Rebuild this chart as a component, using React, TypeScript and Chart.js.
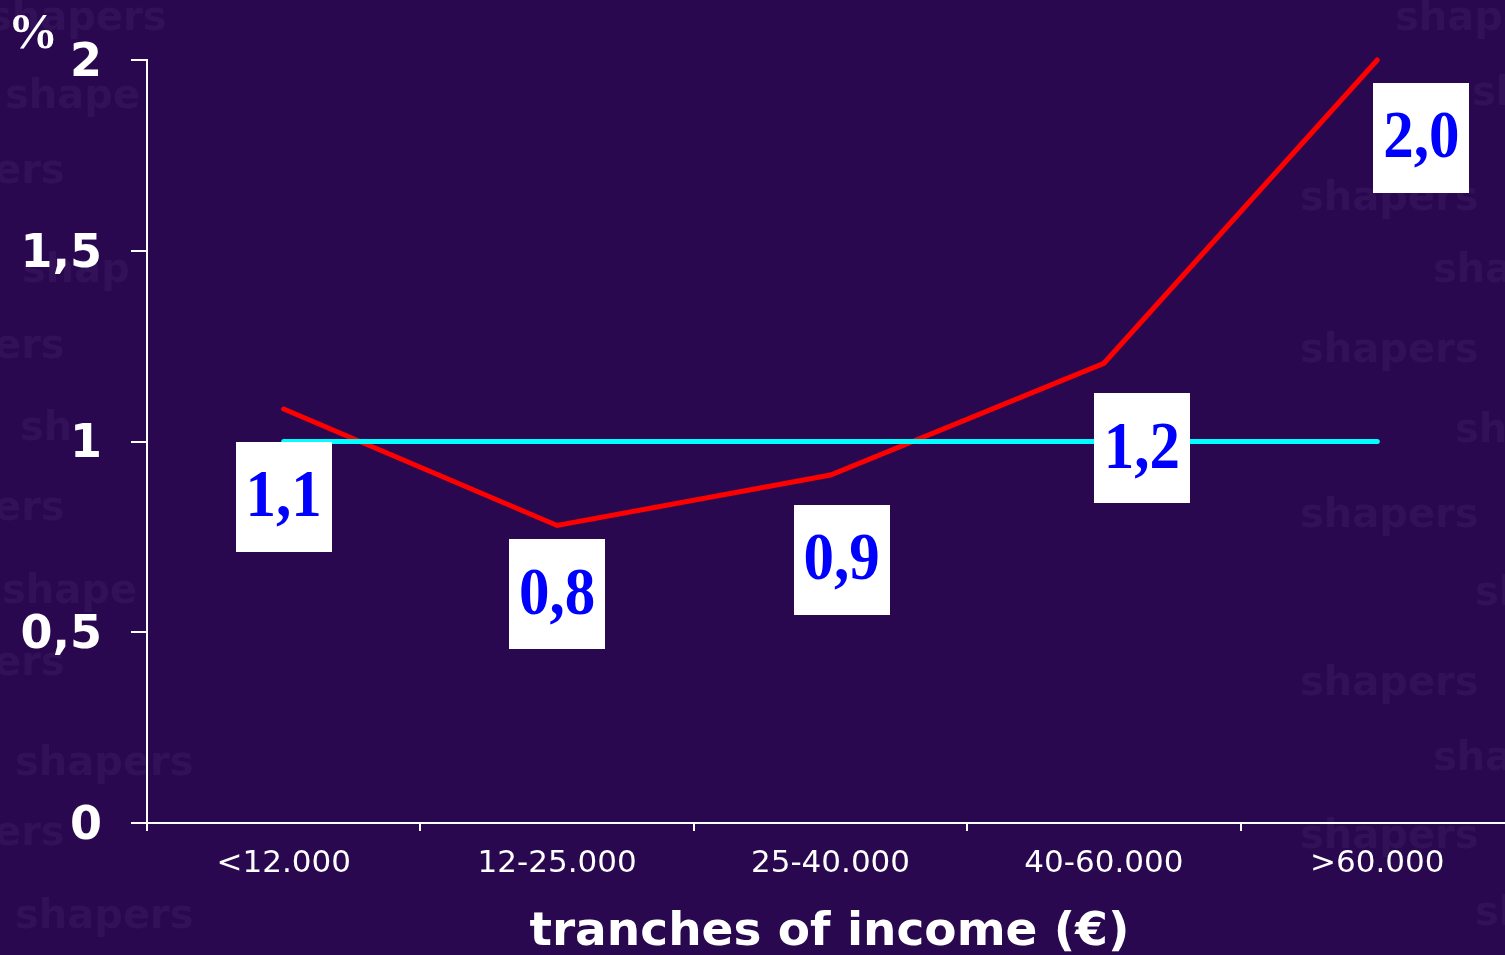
import React, { useEffect, useRef } from "react";
import { Chart, registerables } from "chart.js";

Chart.register(...registerables);

// ---- data ----
const categories = ["<12.000", "12-25.000", "25-40.000", "40-60.000", ">60.000"];
const incomeIndex = [1.085, 0.78, 0.912, 1.205, 2.0];
const referenceLine = [1, 1, 1, 1, 1];
const valueLabels = ["1,1", "0,8", "0,9", "1,2", "2,0"];
const yTickLabels: Record<number, string> = { 0: "0", 0.5: "0,5", 1: "1", 1.5: "1,5", 2: "2" };
const xAxisTitle = "tranches of income (€)";
const unitLabel = "%";
const watermarkWord = "shapers";

const BG = "#2a0850";

const bgPlugin = {
  id: "bgPlugin",
  beforeDraw(chart: any) {
    const { ctx, width, height } = chart;
    ctx.save();
    ctx.fillStyle = BG;
    ctx.fillRect(0, 0, width, height);
    // faint watermark words
    ctx.fillStyle = "rgba(150,130,190,0.08)";
    ctx.font = "bold 40px 'DejaVu Sans'";
    ctx.textBaseline = "middle";
    const marks: [string, number, number][] = [
      [watermarkWord, -12, 20], ["shape", 5, 98], ["ers", -6, 173], ["shap", 22, 272],
      ["ers", -6, 348], ["sh", 20, 430], ["ers", -6, 510], ["shape", 2, 593],
      ["ers", -6, 665], [watermarkWord, 15, 765], ["ers", -6, 835], [watermarkWord, 15, 918],
      [watermarkWord, 1395, 20], ["sh", 1472, 95], [watermarkWord, 1300, 200], ["sha", 1433, 272],
      [watermarkWord, 1300, 352], ["sh", 1455, 432], [watermarkWord, 1300, 517], ["sh", 1475, 595],
      [watermarkWord, 1300, 685], ["sha", 1433, 760], [watermarkWord, 1300, 838], ["sh", 1475, 915],
    ];
    ctx.textAlign = "left";
    for (const [t, x, y] of marks) ctx.fillText(t, x, y);
    ctx.restore();
  },
};

const annotPlugin = {
  id: "annotPlugin",
  afterDraw(chart: any, _args: any, opts: any) {
    const { ctx, chartArea } = chart;
    const meta = chart.getDatasetMeta(1);
    const offsets: [number, number][] = opts.offsets;
    ctx.save();
    meta.data.forEach((pt: any, i: number) => {
      const [dx, dy] = offsets[i];
      const cx = pt.x + dx;
      const cy = pt.y + dy;
      const w = 96;
      const h = 110;
      ctx.fillStyle = "#ffffff";
      ctx.fillRect(Math.round(cx - w / 2), Math.round(cy - h / 2), w, h);
      ctx.save();
      ctx.translate(cx, cy + 2);
      ctx.scale(1, 1.1);
      ctx.fillStyle = "#0000ff";
      ctx.font = "bold 61px 'Liberation Serif'";
      ctx.textAlign = "center";
      ctx.textBaseline = "middle";
      ctx.fillText(valueLabels[i], 0, 0);
      ctx.restore();
    });
    // unit label
    ctx.fillStyle = "#ffffff";
    ctx.font = "bold 50px 'Liberation Serif'";
    ctx.textAlign = "left";
    ctx.textBaseline = "alphabetic";
    ctx.fillText(unitLabel, 8, 48);
    // x axis title
    ctx.font = "bold 47px 'DejaVu Sans'";
    ctx.textAlign = "center";
    ctx.fillText(xAxisTitle, (chartArea.left + chartArea.right) / 2 - 1, 945);
    ctx.restore();
  },
};

export default function App() {
  const ref = useRef<HTMLCanvasElement>(null);

  useEffect(() => {
    document.body.style.margin = "0";
    const canvas = ref.current!;
    const chart = new Chart(canvas, {
      type: "line",
      data: {
        labels: categories,
        datasets: [
          {
            label: "reference",
            data: referenceLine,
            borderColor: "#00ffff",
            borderWidth: 5,
            pointRadius: 0,
            borderCapStyle: "round",
            clip: false,
          },
          {
            label: "index",
            data: incomeIndex,
            borderColor: "#ff0000",
            borderWidth: 5,
            pointRadius: 0,
            borderCapStyle: "round",
            borderJoinStyle: "miter",
            tension: 0,
            clip: false,
          },
        ],
      },
      options: {
        responsive: false,
        animation: false,
        devicePixelRatio: 1,
        layout: { padding: { top: 60, right: 16, left: 0, bottom: 0 } },
        plugins: {
          legend: { display: false },
          tooltip: { enabled: false },
          annotPlugin: { offsets: [[0, 88], [0, 69], [11, 85], [38, 85], [44, 78]] },
        } as any,
        scales: {
          x: {
            type: "category",
            offset: true,
            afterFit(scale: any) {
              scale.height = 132;
            },
            grid: {
              offset: true,
              drawOnChartArea: false,
              drawTicks: true,
              tickLength: 8,
              color: "#ffffff",
              lineWidth: 2,
            },
            border: { display: true, color: "#ffffff", width: 2 },
            ticks: {
              color: "#ffffff",
              font: { family: "'DejaVu Sans'", size: 31 },
              padding: 14,
              maxRotation: 0,
              autoSkip: false,
            },
          },
          y: {
            min: 0,
            max: 2,
            afterFit(scale: any) {
              scale.width = 147;
            },
            grid: {
              drawOnChartArea: false,
              drawTicks: true,
              tickLength: 16,
              color: "#ffffff",
              lineWidth: 2,
            },
            border: { display: true, color: "#ffffff", width: 2 },
            ticks: {
              stepSize: 0.5,
              color: "#ffffff",
              font: { family: "'DejaVu Sans'", size: 46, weight: "bold" },
              padding: 29,
              labelOffset: 4,
              callback: (v: any) => yTickLabels[Number(v)] ?? String(v),
            },
          },
        },
      },
      plugins: [bgPlugin, annotPlugin],
    });
    return () => chart.destroy();
  }, []);

  return (
    <div
      style={{
        position: "fixed",
        left: 0,
        top: 0,
        width: 1505,
        height: 955,
        overflow: "hidden",
        background: BG,
      }}
    >
      <canvas ref={ref} width={1530} height={955} style={{ width: 1530, height: 955, display: "block" }} />
    </div>
  );
}
